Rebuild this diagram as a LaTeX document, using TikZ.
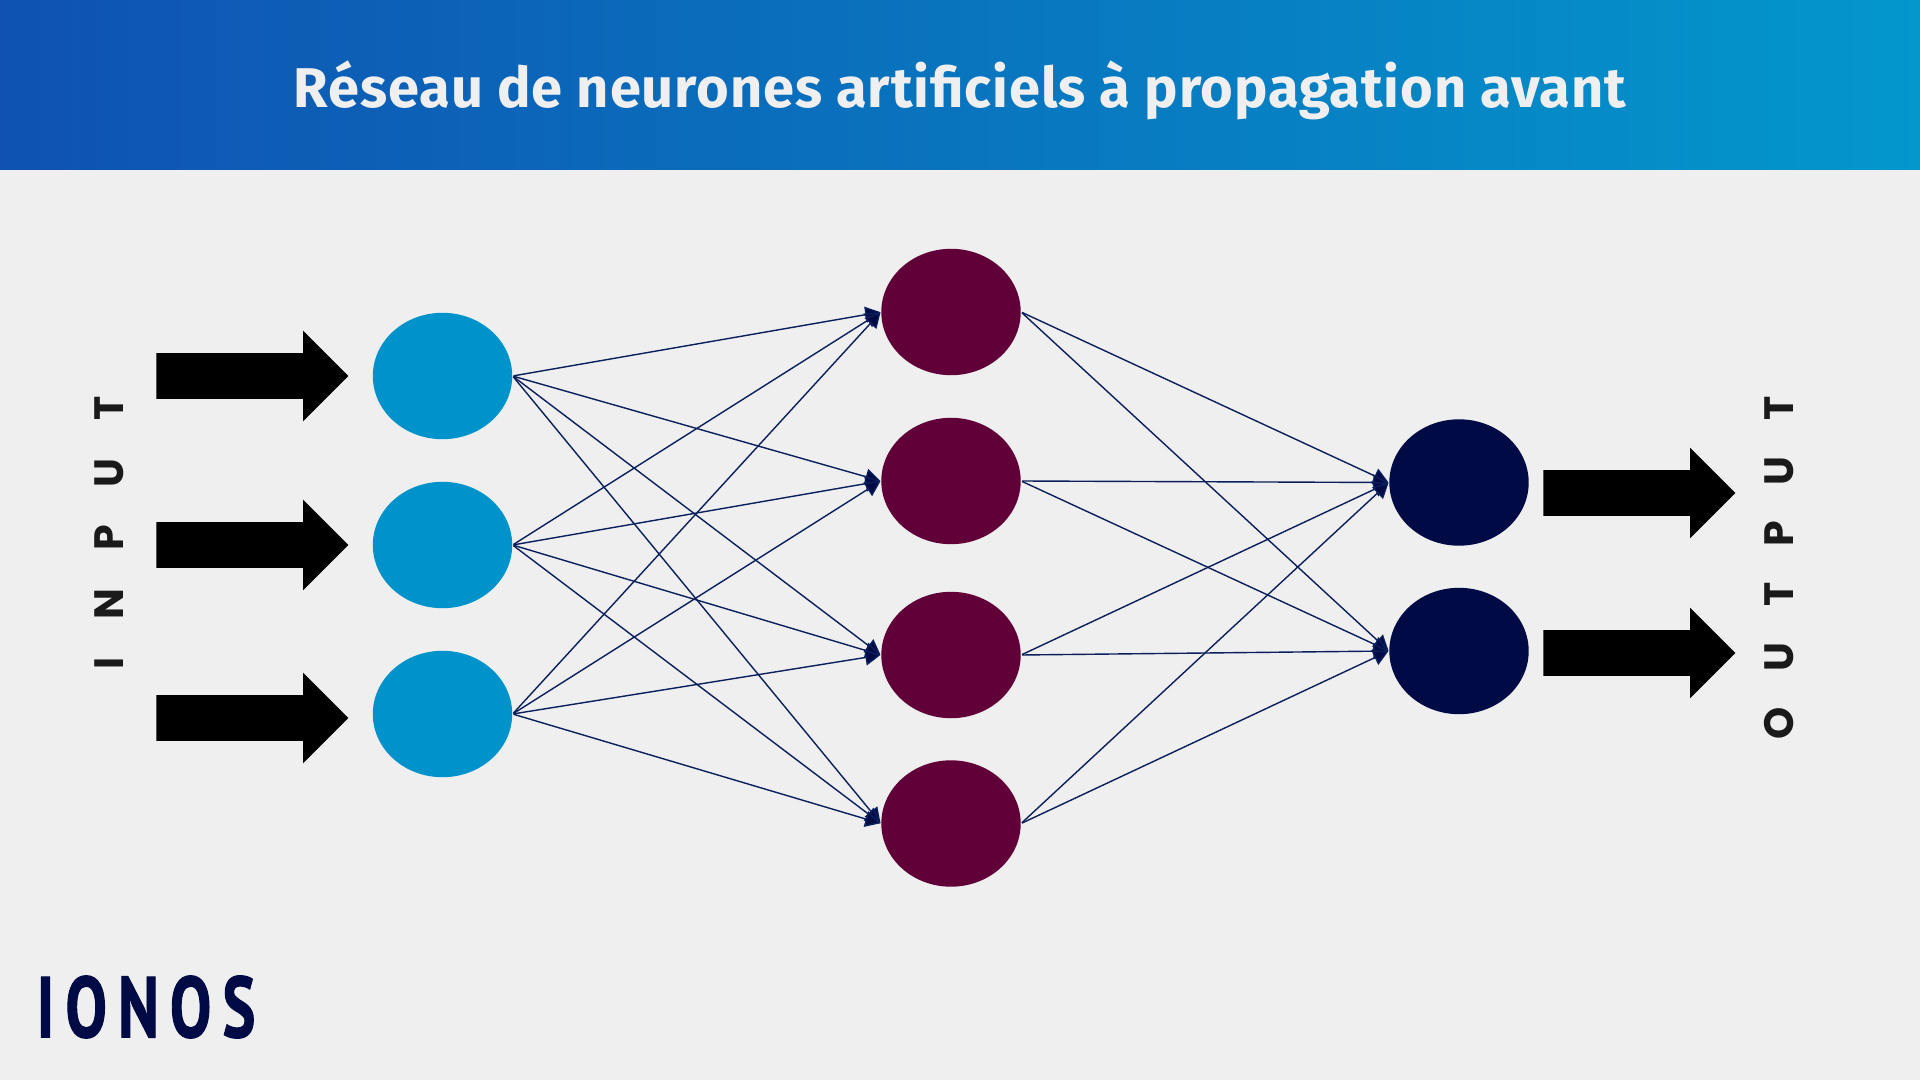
\documentclass[tikz,border=0pt]{standalone}
\usepackage{fontspec}
\usetikzlibrary{shapes.geometric,shapes.arrows,arrows.meta}
\setmainfont{Fira Sans}[LetterSpace=1.6]
\newfontfamily\inputfont[LetterSpace=92]{Poppins Bold}
\newfontfamily\outputfont[LetterSpace=87.5]{Poppins Bold}
\newfontfamily\logofont[LetterSpace=18,FakeBold=1.5]{PT Sans Bold}
\definecolor{pagebg}{HTML}{EFEFEF}
\definecolor{hdrleft}{HTML}{0F52B1}
\definecolor{hdrmid}{HTML}{0981C3}
\definecolor{hdrright}{HTML}{0397CC}
\definecolor{neuronin}{HTML}{0093CB}
\definecolor{neuronhid}{HTML}{610038}
\definecolor{neuronout}{HTML}{000A45}
\definecolor{linkcol}{HTML}{0A1F5C}
\definecolor{labelcol}{HTML}{1A1A1A}
\tikzset{
  neuron/.style={ellipse,minimum width=69.7pt,minimum height=63.2pt,inner sep=0pt,fill=#1},
  link/.style={draw=linkcol,line width=.7pt,-{Triangle[length=7.5pt,width=8pt,fill=neuronout]},shorten <=.5pt,shorten >=.3pt},
  bigarrow/.style={single arrow,anchor=tip,fill=black,inner sep=0pt,minimum height=96pt,minimum width=45pt,single arrow head extend=11.25pt,single arrow head indent=0pt,single arrow tip angle=90},
  sidelabel/.style={rotate=90,text=labelcol,inner sep=0pt}
}
\newcommand{\arrowbody}{\rule{0pt}{22.5pt}}
\begin{document}
\begin{tikzpicture}[x=.5pt,y=-.5pt]
\useasboundingbox (0,0) rectangle (1920,1080);
\fill[pagebg] (0,0) rectangle (1920,1080);
\shade[left color=hdrleft,middle color=hdrmid,right color=hdrright] (0,0) rectangle (1920,170);
\node[text=pagebg,font=\bfseries\fontsize{28pt}{28pt}\selectfont,inner sep=0pt] (title) at (960,90) {Réseau de neurones artificiels à propagation avant};
% neurons
\foreach \n/\y in {a/376,b/545,c/714} \node[neuron=neuronin] (\n) at (442.5,\y) {};
\foreach \n/\y in {d/312,e/481,f/655,g/823.5} \node[neuron=neuronhid] (\n) at (951,\y) {};
\foreach \n/\y in {h/482.5,i/651} \node[neuron=neuronout] (\n) at (1459,\y) {};
% connectors
\foreach \s in {a,b,c} \foreach \t in {d,e,f,g} \draw[link] (\s.east) -- (\t.west);
\foreach \s in {d,e,f,g} \foreach \t in {h,i} \draw[link] (\s.east) -- (\t.west);
% big arrows
\foreach \n/\y in {ia/376,ib/545,ic/718} \node[bigarrow] (\n) at (349,\y) {\arrowbody};
\foreach \n/\y in {oa/493,ob/653} \node[bigarrow] (\n) at (1736,\y) {\arrowbody};
% labels
\node[sidelabel,font=\inputfont\fontsize{20.5pt}{20.5pt}\selectfont] (input) at (109,533) {INPUT};
\node[sidelabel,font=\outputfont\fontsize{20.5pt}{20.5pt}\selectfont] (output) at (1779.5,568) {OUTPUT};
\node[text=neuronout,font=\logofont\fontsize{43pt}{43pt}\selectfont,inner sep=0pt,xscale=.72] (logo) at (146,1007) {IONOS};
\end{tikzpicture}
\end{document}
